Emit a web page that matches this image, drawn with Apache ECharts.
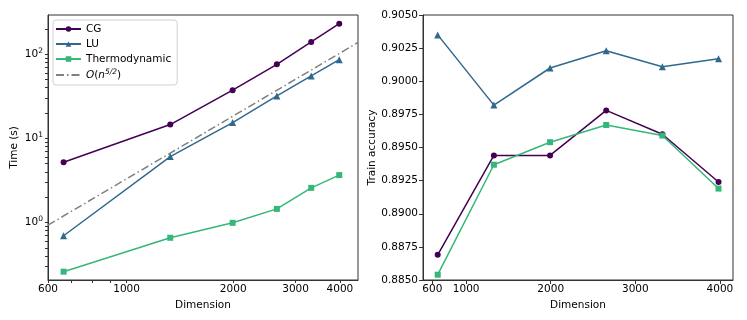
<!DOCTYPE html>
<html>
<head>
<meta charset="utf-8">
<script src="https://cdn.jsdelivr.net/npm/echarts@6/dist/echarts.min.js"></script>
<style>
  html, body { margin: 0; padding: 0; background: #fff; }
  #chart { width: 747px; height: 320px; }
</style>
</head>
<body>
<div id="chart"></div>
<script>
  // dimensions (n)
  const dims = [664, 1328, 1992, 2656, 3320, 3984];

  // left: time (s)
  const timeCG = [5.2, 14.6, 37.4, 76, 140, 231];
  const timeLU = [0.695, 6.08, 15.4, 32.0, 55.2, 86.3];
  const timeThermo = [0.26, 0.658, 0.99, 1.45, 2.58, 3.66];
  // reference O(n^5/2) line, endpoints
  const refX = [600, 4500];
  const refY = [0.93, 138];

  // right: train accuracy
  const accCG = [0.8869, 0.8944, 0.8944, 0.8978, 0.8960, 0.8924];
  const accLU = [0.9035, 0.8982, 0.9010, 0.9023, 0.9011, 0.9017];
  const accThermo = [0.8854, 0.8937, 0.8954, 0.8967, 0.8959, 0.8919];

  const xTicksLeft = [600, 1000, 2000, 3000, 4000];
  const xMinorLeft = [700, 800, 900];
  const yTicksLeft = [1, 10, 100];
  const yMinorLeft = [0.3, 0.4, 0.5, 0.6, 0.7, 0.8, 0.9, 2, 3, 4, 5, 6, 7, 8, 9, 20, 30, 40, 50, 60, 70, 80, 90, 200];
  const xTicksRight = [600, 1000, 2000, 3000, 4000];

  const colors = { cg: '#440154', lu: '#31688e', thermo: '#35b779', ref: '#808080' };
  const font = 'DejaVu Sans';
  const lg = Math.log10;

  const pairs = (xs, ys, f) => xs.map((x, i) => f ? [lg(x), lg(ys[i])] : [x, ys[i]]);

  const chart = echarts.init(document.getElementById('chart'), null, { renderer: 'canvas' });

  const axisLineStyle = { show: true, onZero: false, lineStyle: { color: '#333', width: 1 } };
  const labelStyle = { color: '#000', fontFamily: font, fontSize: 10.5 };
  const nameStyle = { color: '#000', fontFamily: font, fontSize: 10.5 };

  const option = {
    animation: false,
    textStyle: { fontFamily: font },
    grid: [
      { left: 48, top: 15, width: 310, height: 265, show: true, borderColor: '#333', borderWidth: 1 },
      { left: 423, top: 15, width: 310, height: 265, show: true, borderColor: '#333', borderWidth: 1 }
    ],
    legend: {
      left: 53, top: 20,
      orient: 'vertical',
      itemWidth: 25, itemHeight: 7, itemGap: 3,
      padding: [3, 6, 4, 2],
      borderColor: '#d0d0d0', borderWidth: 1, borderRadius: 3,
      backgroundColor: 'rgba(255,255,255,0.85)',
      textStyle: {
        color: '#000', fontFamily: font, fontSize: 10.5, lineHeight: 12,
        rich: {
          it: { fontStyle: 'italic', fontFamily: font, fontSize: 10.5 },
          n: { fontFamily: font, fontSize: 10.5 },
          sup: { fontStyle: 'italic', fontFamily: font, fontSize: 7.5, padding: [0, 0, 6, 0] }
        }
      },
      data: ['CG', 'LU', 'Thermodynamic',
        { name: 'ref', itemStyle: { color: 'rgba(0,0,0,0)', borderWidth: 0 } }],
      formatter: function (name) {
        if (name === 'ref') return '{it|O}{n|(}{it|n}{sup|5/2}{n|)}';
        return name;
      }
    },
    xAxis: [
      {
        gridIndex: 0, type: 'value',
        min: lg(600), max: lg(4500),
        name: 'Dimension', nameLocation: 'middle', nameGap: 18,
        nameTextStyle: nameStyle,
        axisLine: axisLineStyle,
        axisTick: { show: true, length: 3, lineStyle: { color: '#333' }, customValues: xTicksLeft.concat(xMinorLeft).map(lg) },
        axisLabel: Object.assign({ customValues: xTicksLeft.map(lg), margin: 4, formatter: v => String(Math.round(Math.pow(10, v))) }, labelStyle),
        splitLine: { show: false }
      },
      {
        gridIndex: 1, type: 'value',
        min: 490, max: 4155,
        name: 'Dimension', nameLocation: 'middle', nameGap: 18,
        nameTextStyle: nameStyle,
        axisLine: axisLineStyle,
        axisTick: { show: true, length: 4, lineStyle: { color: '#333' }, customValues: xTicksRight },
        axisLabel: Object.assign({ customValues: xTicksRight, margin: 4, formatter: v => String(v) }, labelStyle),
        splitLine: { show: false }
      }
    ],
    yAxis: [
      {
        gridIndex: 0, type: 'value',
        min: lg(0.207), max: lg(293),
        name: 'Time (s)', nameLocation: 'middle', nameGap: 28, nameRotate: 90,
        nameTextStyle: nameStyle,
        axisLine: axisLineStyle,
        axisTick: { show: true, length: 3, lineStyle: { color: '#333' }, customValues: yTicksLeft.concat(yMinorLeft).map(lg) },
        axisLabel: Object.assign({
          customValues: yTicksLeft.map(lg), margin: 5,
          formatter: v => '{b|10}{s|' + Math.round(v) + '}',
          rich: {
            b: { fontFamily: font, fontSize: 10.5, color: '#000' },
            s: { fontFamily: font, fontSize: 7.5, color: '#000', padding: [0, 0, 6, 0] }
          }
        }, labelStyle),
        splitLine: { show: false }
      },
      {
        gridIndex: 1, type: 'value',
        min: 0.885, max: 0.905, interval: 0.0025,
        name: 'Train accuracy', nameLocation: 'middle', nameGap: 40, nameRotate: 90,
        nameTextStyle: nameStyle,
        axisLine: axisLineStyle,
        axisTick: { show: true, length: 4, lineStyle: { color: '#333' } },
        axisLabel: Object.assign({ margin: 5, formatter: v => v.toFixed(4) }, labelStyle),
        splitLine: { show: false }
      }
    ],
    series: [
      { name: 'CG', type: 'line', xAxisIndex: 0, yAxisIndex: 0, data: pairs(dims, timeCG, true),
        symbol: 'circle', symbolSize: 6, color: colors.cg, lineStyle: { width: 1.5 } },
      { name: 'LU', type: 'line', xAxisIndex: 0, yAxisIndex: 0, data: pairs(dims, timeLU, true),
        symbol: 'triangle', symbolSize: 7, color: colors.lu, lineStyle: { width: 1.5 } },
      { name: 'Thermodynamic', type: 'line', xAxisIndex: 0, yAxisIndex: 0, data: pairs(dims, timeThermo, true),
        symbol: 'rect', symbolSize: 6, color: colors.thermo, lineStyle: { width: 1.5 } },
      { name: 'ref', type: 'line', xAxisIndex: 0, yAxisIndex: 0, data: pairs(refX, refY, true),
        symbol: 'none', color: colors.ref, lineStyle: { width: 1.5, type: [8, 3, 1.5, 3] }, clip: true },

      { name: 'CG', type: 'line', xAxisIndex: 1, yAxisIndex: 1, data: pairs(dims, accCG),
        symbol: 'circle', symbolSize: 6, color: colors.cg, lineStyle: { width: 1.5 } },
      { name: 'LU', type: 'line', xAxisIndex: 1, yAxisIndex: 1, data: pairs(dims, accLU),
        symbol: 'triangle', symbolSize: 7, color: colors.lu, lineStyle: { width: 1.5 } },
      { name: 'Thermodynamic', type: 'line', xAxisIndex: 1, yAxisIndex: 1, data: pairs(dims, accThermo),
        symbol: 'rect', symbolSize: 6, color: colors.thermo, lineStyle: { width: 1.5 } }
    ]
  };

  chart.setOption(option);
</script>
</body>
</html>
